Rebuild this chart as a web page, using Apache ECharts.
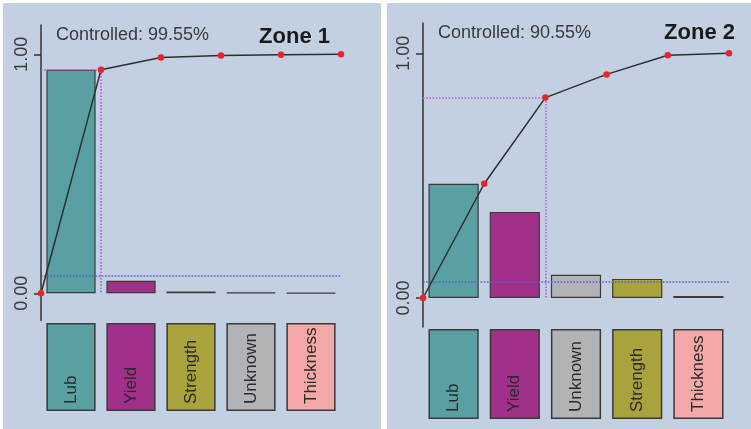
<!DOCTYPE html>
<html>
<head>
<meta charset="utf-8">
<script src="https://cdn.jsdelivr.net/npm/echarts@6/dist/echarts.min.js"></script>
<style>
  html, body { margin: 0; padding: 0; background: #ffffff; }
  body { width: 751px; height: 429px; position: relative; overflow: hidden; }
  .panel { position: absolute; background: #c2d0e2; }
  #zone1 { left: 3px; top: 3px; width: 378px; height: 426px; }
  #zone2 { left: 387px; top: 3px; width: 364px; height: 426px; }
</style>
</head>
<body>
<div id="zone1" class="panel"></div>
<div id="zone2" class="panel"></div>
<script>
// Pareto data per zone: share of defects by cause (sorted descending)
const zone1Causes = ['Lub', 'Yield', 'Strength', 'Unknown', 'Thickness'];
const zone1Shares = [0.935, 0.052, 0.008, 0.003, 0.002];
const zone1Threshold = 0.072;
const zone1Controlled = '99.55%';

const zone2Causes = ['Lub', 'Yield', 'Unknown', 'Strength', 'Thickness'];
const zone2Shares = [0.467, 0.352, 0.095, 0.078, 0.008];
const zone2Threshold = 0.067;
const zone2Controlled = '90.55%';

const yTickValues = [0, 1];
const paretoCut = 0.8;

const causeColors = {
  Lub: '#5aa0a2',
  Yield: '#a0308a',
  Strength: '#aaa23c',
  Unknown: '#b2b3b6',
  Thickness: '#f4a9a8'
};

const FONT = '"Liberation Sans", Arial, sans-serif';

function buildOption(name, causes, shares, threshold, controlled, L) {
  // cumulative curve, starting from 0 at the left edge of the first bar
  const cumulative = [[0, 0]];
  let run = 0;
  shares.forEach((s, i) => { run += s; cumulative.push([i + 1, run]); });
  // first cause at which the cumulative share passes the Pareto cut
  const cutIdx = cumulative.findIndex(p => p[0] > 0 && p[1] >= paretoCut);
  const cut = cumulative[cutIdx];
  const cutStyle = { color: '#c458d0', type: 'dotted', width: 1.6 };

  return {
    animation: false,
    backgroundColor: 'transparent',
    title: [
      {
        text: 'Controlled: ' + controlled,
        left: L.subLeft, top: L.subTop, padding: 0,
        textStyle: { fontFamily: FONT, fontSize: 18, fontWeight: 'normal', color: '#3a3a3a' }
      },
      {
        text: name,
        right: L.titleRight, top: L.titleTop, padding: 0,
        textStyle: { fontFamily: FONT, fontSize: 22, fontWeight: 'bold', color: '#1a1a1a' }
      }
    ],
    grid: [
      { left: L.left, width: L.width, top: L.top, height: L.height },
      { left: L.left, width: L.width, top: L.boxTop, height: L.boxHeight }
    ],
    xAxis: [
      { type: 'category', gridIndex: 0, data: causes, show: false },
      { type: 'value', gridIndex: 0, min: 0, max: causes.length, show: false },
      { type: 'category', gridIndex: 1, data: causes, show: false }
    ],
    yAxis: [
      {
        type: 'value', gridIndex: 0, min: L.yMin, max: L.yMax,
        axisLine: { show: true, lineStyle: { color: '#333', width: 1.5 } },
        axisTick: { show: true, customValues: yTickValues, length: 7, lineStyle: { color: '#333', width: 1.5 } },
        axisLabel: {
          show: true, customValues: yTickValues, rotate: 90, margin: 10,
          formatter: v => v.toFixed(2),
          fontFamily: FONT, fontSize: 18, color: '#3a3a3a'
        },
        splitLine: { show: false }
      },
      { type: 'value', gridIndex: 1, min: 0, max: 1, show: false }
    ],
    series: [
      {
        type: 'bar', xAxisIndex: 0, yAxisIndex: 0, barWidth: '82%',
        data: shares.map((v, i) => ({ value: v, itemStyle: { color: causeColors[causes[i]] } })),
        itemStyle: { borderColor: '#3a3a3a', borderWidth: 1.2 },
        z: 2
      },
      {
        type: 'line', xAxisIndex: 1, yAxisIndex: 0,
        data: cumulative,
        symbol: 'circle', symbolSize: 6.5,
        itemStyle: { color: '#e8262a' },
        lineStyle: { color: '#2e2e2e', width: 1.5 },
        z: 5,
        markLine: {
          silent: true, symbol: 'none', animation: false,
          label: { show: false },
          data: [
            [
              { coord: [0, cut[1]], lineStyle: cutStyle },
              { coord: [cut[0], cut[1]] }
            ],
            [
              { coord: [cut[0], cut[1]], lineStyle: cutStyle },
              { coord: [cut[0], 0] }
            ],
            [
              { coord: [0, threshold], lineStyle: { color: '#5a5ad8', type: 'dotted', width: 1.6 } },
              { coord: [causes.length, threshold] }
            ]
          ]
        }
      },
      {
        type: 'bar', xAxisIndex: 2, yAxisIndex: 1, barWidth: '82%',
        data: causes.map(c => ({ value: 1, itemStyle: { color: causeColors[c] } })),
        itemStyle: { borderColor: '#3a3a3a', borderWidth: 1.5 },
        label: {
          show: true, formatter: '{b}', position: 'insideBottom', distance: 7,
          rotate: 90, align: 'left', verticalAlign: 'middle',
          fontFamily: FONT, fontSize: 17, color: '#2a2a2a'
        }
      }
    ]
  };
}

const chart1 = echarts.init(document.getElementById('zone1'), null, { renderer: 'canvas' });
chart1.setOption(buildOption('Zone 1', zone1Causes, zone1Shares, zone1Threshold, zone1Controlled, {
  left: 38, width: 300, top: 22, height: 295.5,
  yMin: -0.1138, yMax: 1.1226,
  boxTop: 320, boxHeight: 88,
  subLeft: 53, subTop: 23, titleRight: 51, titleTop: 22.5
}));

const chart2 = echarts.init(document.getElementById('zone2'), null, { renderer: 'canvas' });
chart2.setOption(buildOption('Zone 2', zone2Causes, zone2Shares, zone2Threshold, zone2Controlled, {
  left: 36, width: 306, top: 20, height: 304,
  yMin: -0.1185, yMax: 1.124,
  boxTop: 326, boxHeight: 90,
  subLeft: 51, subTop: 20.7, titleRight: 16, titleTop: 19
}));
</script>
</body>
</html>
